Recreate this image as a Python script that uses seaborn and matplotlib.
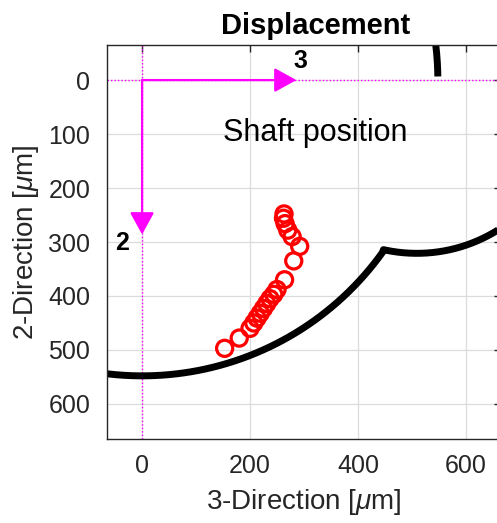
import numpy as np
import pandas as pd
import matplotlib
matplotlib.use("Agg")
import matplotlib.pyplot as plt
import seaborn as sns

# ---- data ----
dir3 = [153, 180, 200, 207, 213, 219, 225, 231, 237, 244, 250, 264, 281, 292, 278, 270, 265, 262, 263]
dir2 = [497, 478, 460, 450, 441, 432, 423, 414, 405, 397, 388, 370, 335, 308, 290, 278, 266, 256, 248]

bore_radius = 548          # clearance circle radius [um]
kink_angle_deg = 35.5      # where the pocket meets the circle
top_end_angle_deg = -0.7   # end of the upper circle segment
pocket_center = (509, 38)  # centre of the pocket arc
pocket_radius = 283
arrow_len = 286

xticks = [0, 200, 400, 600]
yticks = [0, 100, 200, 300, 400, 500, 600]
xlim = (-65, 665)
ylim = (665, -65)

magenta = "#FF00FF"
grey = "#262626"

sns.set_theme(style="white")
plt.rcParams["font.family"] = ["Liberation Sans", "DejaVu Sans"]
plt.rcParams["mathtext.fontset"] = "custom"
plt.rcParams["mathtext.it"] = "Liberation Sans:italic"
plt.rcParams["mathtext.rm"] = "Liberation Sans"

W, H = 497, 523
fig = plt.figure(figsize=(W / 100, H / 100), dpi=100)
ax = fig.add_axes([107 / W, (H - 439) / H, 394 / W, 394 / H])

# boundary geometry: pocket arc joined to the lower part of the clearance circle
k = np.radians(kink_angle_deg)
kx, ky = bore_radius * np.cos(k), bore_radius * np.sin(k)
phi0 = np.arctan2(ky - pocket_center[1], kx - pocket_center[0])
phi = np.linspace(np.radians(30), phi0, 200)
t1 = np.radians(np.linspace(kink_angle_deg, 180, 300))
main = pd.DataFrame({
    "x": np.concatenate([pocket_center[0] + pocket_radius * np.cos(phi), bore_radius * np.cos(t1)]),
    "y": np.concatenate([pocket_center[1] + pocket_radius * np.sin(phi), bore_radius * np.sin(t1)]),
})
t2 = np.radians(np.linspace(-90, top_end_angle_deg, 200))
up = pd.DataFrame({"x": bore_radius * np.cos(t2), "y": bore_radius * np.sin(t2)})

ax.grid(True, color="#dcdcdc", lw=0.9)
ax.set_axisbelow(True)
ax.axhline(0, color=magenta, ls=(0, (1, 1.5)), lw=1.0, zorder=1)
ax.axvline(0, color=magenta, ls=(0, (1, 1.5)), lw=1.0, zorder=1)

for d in (main, up):
    sns.lineplot(data=d, x="x", y="y", sort=False, estimator=None, color="black",
                 lw=5, ax=ax, solid_capstyle="butt", solid_joinstyle="round")

sns.scatterplot(x=dir3, y=dir2, marker="o", s=135, facecolors="none",
                edgecolor="red", linewidth=2.3, ax=ax, zorder=5)

aprops = dict(arrowstyle="-|>,head_length=0.4,head_width=0.22", color=magenta, lw=1.6,
              mutation_scale=34, shrinkA=0, shrinkB=0)
ax.annotate("", xy=(arrow_len, 0), xytext=(0, 0), arrowprops=aprops, zorder=4)
ax.annotate("", xy=(0, arrow_len), xytext=(0, 0), arrowprops=aprops, zorder=4)
ax.text(293, -35, "3", fontsize=18, fontweight="bold", color="black", ha="center", va="center")
ax.text(-37, 301, "2", fontsize=18, fontweight="bold", color="black", ha="center", va="center")
ax.text(150, 98, "Shaft position", fontsize=22, color="black", ha="left", va="center")

ax.set_xlim(*xlim)
ax.set_ylim(*ylim)
ax.set_xticks(xticks)
ax.set_yticks(yticks)
ax.tick_params(direction="in", length=5, width=1, color=grey, labelcolor=grey,
               labelsize=18, top=True, right=True)
ax.tick_params(axis="x", pad=11)
ax.tick_params(axis="y", pad=12)
for s in ax.spines.values():
    s.set_color(grey)
    s.set_linewidth(1.0)

ax.set_xlabel(r"3-Direction [$\mu$m]", fontsize=20, color=grey, labelpad=6)
ax.set_ylabel(r"2-Direction [$\mu$m]", fontsize=20, color=grey, labelpad=5)
ax.set_title("Displacement", fontsize=21, fontweight="bold", color="black", x=0.53, pad=8)

fig.savefig("out.png", dpi=100)
